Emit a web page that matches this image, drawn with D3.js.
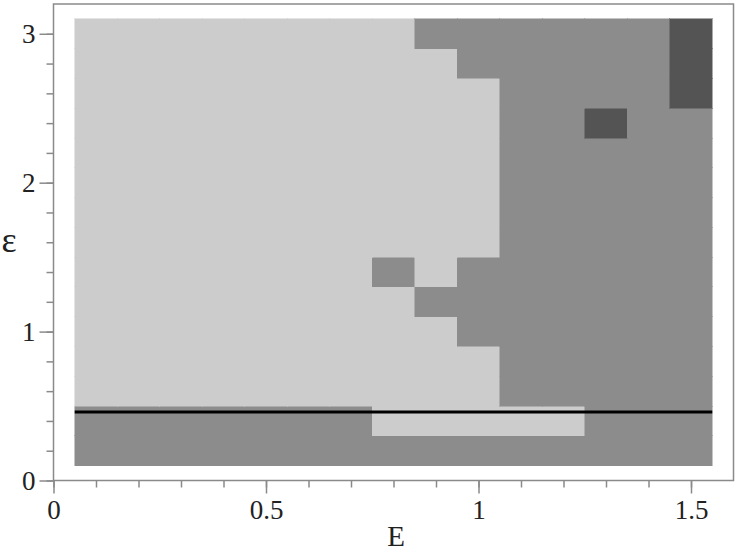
<!DOCTYPE html>
<html>
<head>
<meta charset="utf-8">
<script src="https://cdn.jsdelivr.net/npm/d3@7"></script>
<style>
  body { margin: 0; background: #fff; }
  svg { display: block; }
</style>
</head>
<body>
<div id="chart"></div>
<script>
// Declare constants
const WIDTH = 736;
const HEIGHT = 551;
const FONT = "'Liberation Serif', 'Times New Roman', serif";

// grid centres
const E_VALUES = [0.1, 0.2, 0.3, 0.4, 0.5, 0.6, 0.7, 0.8, 0.9, 1.0, 1.1, 1.2, 1.3, 1.4, 1.5];
const EPS_VALUES = [0.2, 0.4, 0.6, 0.8, 1.0, 1.2, 1.4, 1.6, 1.8, 2.0, 2.2, 2.4, 2.6, 2.8, 3.0];

// region per cell: 0 = light, 1 = medium, 2 = dark ; one row per eps value, bottom to top
const REGION = [
  [1,1,1,1,1,1,1,1,1,1,1,1,1,1,1],
  [1,1,1,1,1,1,1,0,0,0,0,0,1,1,1],
  [0,0,0,0,0,0,0,0,0,0,1,1,1,1,1],
  [0,0,0,0,0,0,0,0,0,0,1,1,1,1,1],
  [0,0,0,0,0,0,0,0,0,1,1,1,1,1,1],
  [0,0,0,0,0,0,0,0,1,1,1,1,1,1,1],
  [0,0,0,0,0,0,0,1,0,1,1,1,1,1,1],
  [0,0,0,0,0,0,0,0,0,0,1,1,1,1,1],
  [0,0,0,0,0,0,0,0,0,0,1,1,1,1,1],
  [0,0,0,0,0,0,0,0,0,0,1,1,1,1,1],
  [0,0,0,0,0,0,0,0,0,0,1,1,1,1,1],
  [0,0,0,0,0,0,0,0,0,0,1,1,2,1,1],
  [0,0,0,0,0,0,0,0,0,0,1,1,1,1,2],
  [0,0,0,0,0,0,0,0,0,1,1,1,1,1,2],
  [0,0,0,0,0,0,0,0,1,1,1,1,1,1,2]
];

// horizontal reference line
const LINE_EPS = 0.46;
const LINE_E = [0.05, 1.55];

const X_TICKS = [0, 0.5, 1, 1.5];
const X_MINOR = d3.range(0, 16).map(d => d / 10);
const Y_TICKS = [0, 1, 2, 3];
const Y_MINOR = d3.range(0, 16).map(d => d / 5);

const COLORS = ["#cccccc", "#8c8c8c", "#545454"];

const x = d3.scaleLinear().domain([0, 1.6]).range([53.5, 733.5]);
const y = d3.scaleLinear().domain([0, 3.2]).range([480.5, 4]);

const svg = d3.select("#chart")
  .append("svg")
    .attr("width", WIDTH)
    .attr("height", HEIGHT);

// cells
const cells = [];
EPS_VALUES.forEach((eps, j) => {
  E_VALUES.forEach((e, i) => {
    cells.push({e: e, eps: eps, v: REGION[j][i]});
  });
});

svg.append("g")
  .selectAll("rect")
  .data(cells)
  .enter()
  .append("rect")
    .attr("x", d => x(d.e - 0.05))
    .attr("y", d => y(d.eps + 0.1))
    .attr("width", d => x(d.e + 0.05) - x(d.e - 0.05))
    .attr("height", d => y(d.eps - 0.1) - y(d.eps + 0.1))
    .attr("fill", d => COLORS[d.v])
    .attr("stroke", d => COLORS[d.v])
    .attr("stroke-width", 0.5)
    .attr("shape-rendering", "crispEdges");

// black line
svg.append("line")
  .attr("x1", x(LINE_E[0]))
  .attr("x2", x(LINE_E[1]))
  .attr("y1", y(LINE_EPS))
  .attr("y2", y(LINE_EPS))
  .attr("stroke", "#000")
  .attr("stroke-width", 3);

// frame
svg.append("rect")
  .attr("x", x(0))
  .attr("y", y(3.2))
  .attr("width", x(1.6) - x(0))
  .attr("height", y(0) - y(3.2))
  .attr("fill", "none")
  .attr("stroke", "#8a8a8a")
  .attr("stroke-width", 1.5);

// minor ticks
svg.append("g")
  .attr("transform", `translate(0,${y(0)})`)
  .call(d3.axisBottom(x).tickValues(X_MINOR).tickSize(7).tickFormat(""))
  .call(g => g.select(".domain").remove());

svg.append("g")
  .attr("transform", `translate(${x(0)},0)`)
  .call(d3.axisLeft(y).tickValues(Y_MINOR).tickSize(7).tickFormat(""))
  .call(g => g.select(".domain").remove());

// major ticks
svg.append("g")
  .attr("class", "major")
  .attr("transform", `translate(0,${y(0)})`)
  .call(d3.axisBottom(x).tickValues(X_TICKS).tickSize(13).tickPadding(6).tickFormat(d3.format("")))
  .call(g => g.select(".domain").remove());

svg.append("g")
  .attr("class", "major")
  .attr("transform", `translate(${x(0)},0)`)
  .call(d3.axisLeft(y).tickValues(Y_TICKS).tickSize(14).tickPadding(4).tickFormat(d3.format("")))
  .call(g => g.select(".domain").remove());

svg.selectAll(".major text")
  .style("font-family", FONT)
  .style("font-size", "27px")
  .attr("fill", "#222");

svg.selectAll(".tick line").attr("stroke", "#8a8a8a").attr("stroke-width", 1.5);

// axis titles
svg.append("text")
  .attr("x", 396)
  .attr("y", 546)
  .attr("text-anchor", "middle")
  .style("font-family", FONT)
  .style("font-size", "29px")
  .attr("fill", "#222")
  .text("E");

svg.append("text")
  .attr("x", 9)
  .attr("y", 252)
  .attr("text-anchor", "middle")
  .style("font-family", FONT)
  .style("font-size", "36px")
  .attr("fill", "#222")
  .text("ε");
</script>
</body>
</html>
